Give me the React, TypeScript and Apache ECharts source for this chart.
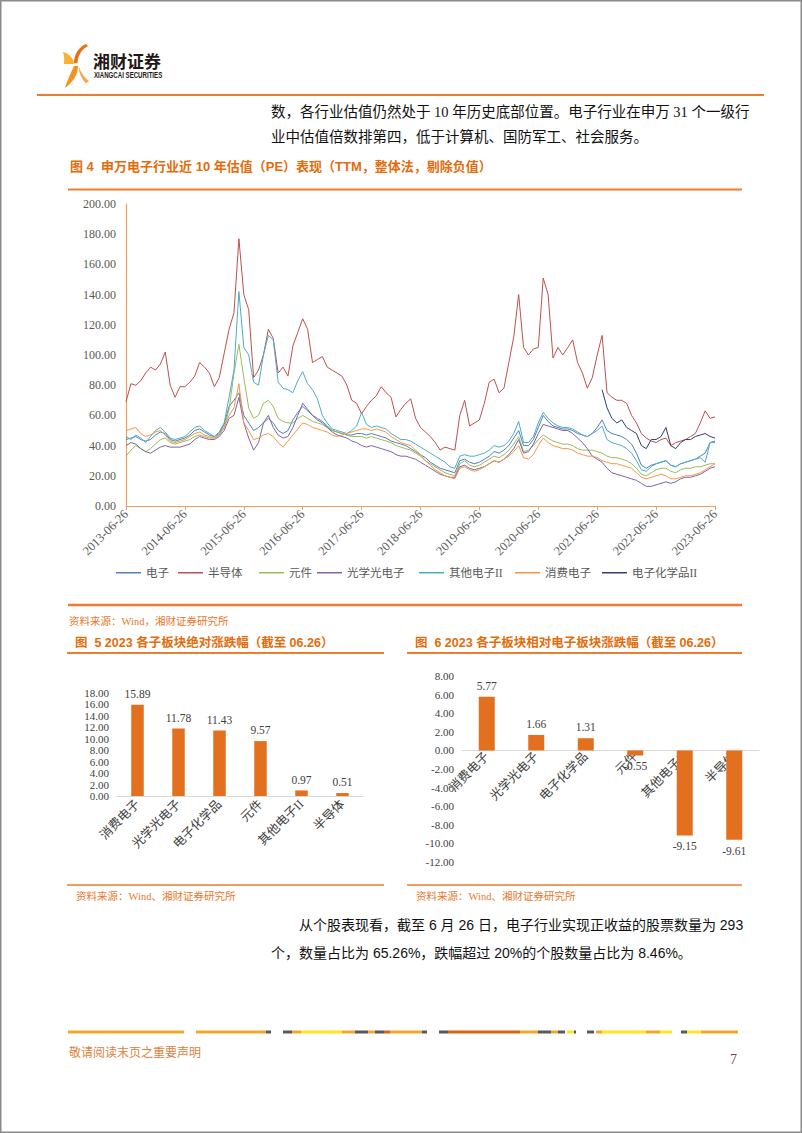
import React, { useEffect, useRef } from 'react';
import * as echarts from 'echarts';

// ---------- Figure 4 data (monthly, 2013-06 .. 2023-06) ----------
const seriesNames = ['电子', '半导体', '元件', '光学光电子', '其他电子II', '消费电子', '电子化学品II'];
const seriesColors = ['#4F81BD', '#C0504D', '#9BBB59', '#8064A2', '#4BACC6', '#F79646', '#2E3F6E'];

const dianzi = [
  44, 45, 46, 44, 43, 44, 47, 49, 48, 44, 43, 44,
  45, 47, 50, 51, 49, 47, 46, 48, 54, 66, 70, 75,
  60, 55, 50, 52, 55, 58, 55, 50, 48, 50, 57, 62,
  66, 63, 60, 58, 56, 53, 50, 49, 48, 47, 47, 48,
  48, 47, 48, 47, 46, 45, 43, 42, 41, 40, 38, 36,
  34, 32, 29, 27, 25, 24, 23, 22, 30, 31, 29, 28,
  29, 31, 33, 36, 35, 37, 40, 45, 50, 40, 40, 44,
  52, 60, 56, 53, 52, 51, 51, 50, 48, 47, 46, 48,
  52, 57, 50, 48, 47, 46, 44, 41, 35, 27, 25, 27,
  28, 29, 30, 27, 26, 28, 29, 30, 31, 33, 35, 42,
  43,
];
const bandaoti = [
  69, 81, 80, 83, 88, 92, 90, 94, 102, 80, 72, 79,
  79, 82, 86, 95, 92, 88, 79, 85, 101, 117, 128, 177,
  140, 130, 85, 90, 100, 117, 111, 88, 92, 86, 106, 115,
  124, 117, 95, 97, 99, 92, 90, 88, 86, 80, 70, 68,
  61, 66, 70, 73, 79, 75, 72, 59, 64, 68, 71, 58,
  52, 49, 46, 42, 37, 39, 38, 37, 60, 70, 53, 55,
  57, 68, 82, 84, 75, 78, 95, 112, 140, 105, 100, 104,
  105, 151, 140, 98, 105, 100, 105, 110, 95, 88, 78, 85,
  100, 113, 75, 72, 70, 70, 68, 60, 55, 48, 45, 43,
  42, 44, 45, 40, 42, 43, 44, 46, 48, 55, 63, 58,
  59,
];
const yuanjian = [
  33, 37, 40, 38, 36, 38, 41, 44, 45, 42, 41, 42,
  43, 44, 46, 47, 46, 45, 45, 47, 52, 64, 88, 107,
  85, 65, 58, 60, 68, 70, 66, 58, 56, 55, 55, 58,
  60, 58, 56, 55, 54, 52, 50, 49, 48, 47, 46, 46,
  46, 45, 46, 45, 44, 43, 42, 40, 39, 38, 37, 35,
  33, 30, 28, 26, 24, 22, 21, 20, 28, 30, 27, 26,
  27, 29, 31, 33, 32, 34, 37, 41, 46, 36, 37, 40,
  44, 47, 45, 43, 42, 41, 41, 40, 38, 37, 37, 37,
  36, 35, 33, 32, 32, 31, 30, 28, 25, 21, 20, 22,
  24, 25, 25, 23, 22, 24, 25, 25, 26, 26, 27, 28,
  28,
];
const guangxue = [
  40, 42, 41, 38, 36, 35, 37, 39, 40, 39, 39, 39,
  40, 41, 44, 46, 45, 44, 44, 46, 50, 58, 60, 72,
  55, 45, 37, 42, 55, 60, 52, 47, 45, 46, 52, 60,
  68, 64, 60, 57, 55, 52, 49, 47, 46, 45, 43, 42,
  40, 39, 40, 39, 38, 37, 36, 34, 33, 33, 32, 31,
  29, 27, 25, 23, 21, 20, 19, 19, 26, 27, 25, 24,
  25, 26, 28, 30, 29, 31, 34, 38, 44, 35, 36, 41,
  48, 54, 53, 52, 51, 50, 50, 48, 45, 42, 38, 33,
  31, 29, 25, 22, 21, 20, 19, 18, 17, 15, 13, 13,
  14, 15, 16, 15, 16, 18, 19, 19, 20, 21, 23, 25,
  26,
];
const qita = [
  46, 44, 47, 45, 42, 46, 50, 52, 49, 45, 44, 45,
  46, 49, 52, 53, 50, 48, 46, 49, 55, 72, 90, 142,
  105, 100, 82, 80, 100, 113, 110, 82, 78, 77, 75, 83,
  89, 81, 77, 71, 60, 55, 51, 50, 49, 48, 50, 53,
  62, 54, 52, 53, 52, 51, 48, 46, 44, 44, 43, 41,
  39, 37, 35, 33, 31, 29, 26, 25, 33, 34, 33, 33,
  34, 35, 37, 40, 39, 40, 43, 48, 56, 42, 42, 46,
  55, 62, 58, 55, 53, 52, 52, 51, 49, 47, 46, 48,
  50, 53, 44, 42, 41, 40, 38, 35, 30, 24, 23, 26,
  28, 29, 30, 27, 26, 28, 29, 30, 31, 32, 29, 42,
  42,
];
const xiaofei = [
  50, 51, 52, 48, 46, 47, 49, 50, 47, 43, 42, 43,
  44, 46, 48, 49, 47, 46, 45, 47, 52, 60, 65, 81,
  55, 50, 44, 45, 47, 48, 46, 42, 39, 43, 47, 51,
  55, 54, 52, 51, 50, 49, 47, 46, 47, 48, 49, 50,
  51, 51, 50, 51, 50, 49, 46, 44, 42, 41, 40, 37,
  34, 30, 27, 24, 22, 20, 19, 18, 25, 26, 24, 23,
  24, 26, 28, 30, 29, 31, 33, 36, 40, 32, 31, 34,
  40, 45, 42, 40, 39, 38, 38, 37, 35, 34, 33, 33,
  32, 30, 29, 28, 28, 27, 26, 25, 22, 19, 18, 19,
  20, 21, 20, 18, 18, 19, 20, 20, 21, 22, 24, 26,
  28,
];
// 电子化学品II starts in 2021-07 (month index 97)
const huaxueStart = 97;
const huaxue = [
  77, 65, 58, 55, 57, 52, 50, 48, 40, 38, 44,
  44, 46, 52, 40, 38, 42, 44, 44, 46, 47, 48, 46,
  45,
];

// ---------- Figure 5 / 6 data ----------
const barCats = ['消费电子', '光学光电子', '电子化学品', '元件', '其他电子II', '半导体'];
const absChange = [15.89, 11.78, 11.43, 9.57, 0.97, 0.51];
const relChange = [5.77, 1.66, 1.31, -0.55, -9.15, -9.61];

// ---------- layout constants ----------
const legendX = [116, 178, 259, 317, 419, 515, 602];
const G = '#F0A928', D = '#595959', Y = '#FFE51F', O = '#D9640F';
const footerSegs: [number, number, string][] = [
  [68, 184, G], [196, 266, G], [266, 271, D], [283, 292, D], [292, 301, G], [301, 342, Y],
  [342, 355, G], [355, 368, D], [368, 375, G], [375, 384, D], [384, 390, O], [390, 422, G],
  [422, 427, D], [439, 448, D], [448, 520, O], [520, 538, G], [538, 551, D], [551, 558, G],
  [558, 565, D], [567, 574, Y], [574, 576, D], [587, 594, D], [596, 602, G], [602, 646, Y],
  [646, 660, G], [660, 672, Y], [681, 687, D], [687, 701, Y], [701, 738, G],
];

const SERIF = '"Liberation Serif", "Noto Sans CJK SC", serif';
const SANS = '"Liberation Sans", "Noto Sans CJK SC", sans-serif';
const ORANGE = '#E46C0A';
const LINE_ORANGE = '#ED7D31';
const AXIS_ORANGE = '#F0A060';

// figure 6 grid geometry
const G6_TOP = 676, G6_H = 186, G6_MIN = -12, G6_MAX = 8;

echarts.graphic.registerShape('logoA', echarts.graphic.extendPath('M24,1 C17,4 12,11 12,20 L15.5,20 C16,12 20,6 26,3 Z', {}));
echarts.graphic.registerShape('logoB', echarts.graphic.extendPath('M1,9 C6,10 11,14 12.5,21 L2,21 C2.5,16 2,12 1,9 Z', {}));
echarts.graphic.registerShape('logoC', echarts.graphic.extendPath('M12,23 L16,23 C16,32 11,39 3,45 C5,37 9,30 12,23 Z', {}));
echarts.graphic.registerShape('logoD', echarts.graphic.extendPath('M16.5,23 C19,30 23,35 27,38 L24,40.5 C19.5,36 17,30 16.5,23 Z', {}));

function txt(text: string, x: number, y: number, size: number, fill: string, family: string, weight: string = 'normal', align: string = 'left', extra: any = {}) {
  return {
    type: 'text', x, y, ...extra,
    style: {
      text, fill, fontSize: size, fontFamily: family, fontWeight: weight,
      textAlign: align, textVerticalAlign: 'middle', align, verticalAlign: 'middle',
    },
  };
}
function hline(x1: number, x2: number, y: number, w: number, color: string) {
  return { type: 'line', shape: { x1, y1: y, x2, y2: y }, style: { stroke: color, lineWidth: w } };
}

function buildOption() {
  const dateLabels: string[] = [];
  for (let i = 0; i < dianzi.length; i++) {
    const mIdx = 5 + i;
    const yr = 2013 + Math.floor(mIdx / 12);
    const mo = (mIdx % 12) + 1;
    dateLabels.push(`${yr}-${String(mo).padStart(2, '0')}-26`);
  }
  const huaxueData = dateLabels.map((_, i) => (i < huaxueStart ? null : huaxue[i - huaxueStart]));
  const lineData = [dianzi, bandaoti, yuanjian, guangxue, qita, xiaofei, huaxueData];

  const lineSeries = seriesNames.map((name, i) => ({
    name, type: 'line', xAxisIndex: 0, yAxisIndex: 0, data: lineData[i],
    showSymbol: false, symbol: 'none', lineStyle: { width: 1, color: seriesColors[i] },
    itemStyle: { color: seriesColors[i] }, emphasis: { disabled: true },
  }));

  const barLabel = {
    show: true, fontSize: 11.5, fontFamily: SERIF, color: '#404040', distance: 5,
    formatter: (p: any) => Number(p.value).toFixed(2),
  };
  const catAxisLabel = { rotate: 45, interval: 0, fontSize: 12.5, color: '#404040', fontFamily: SERIF, margin: 6 };
  const valLabel = { fontSize: 11, color: '#404040', fontFamily: SERIF, margin: 8, formatter: (v: number) => v.toFixed(2) };

  // distance from bottom of fig 6 grid up to its zero line
  const zeroOffset = (G6_H * (0 - G6_MIN)) / (G6_MAX - G6_MIN);

  const graphics: any[] = [
    { type: 'rect', shape: { x: 0.75, y: 0.75, width: 800.5, height: 1131.5 }, style: { fill: 'none', stroke: '#8A8A8A', lineWidth: 1.5 } },
    // logo
    { type: 'logoA', x: 62, y: 43, scaleX: 1, scaleY: 1, style: { fill: '#E5701A' } },
    { type: 'logoB', x: 62, y: 43, scaleX: 1, scaleY: 1, style: { fill: '#F8B133' } },
    { type: 'logoC', x: 62, y: 43, scaleX: 1, scaleY: 1, style: { fill: '#F29422' } },
    { type: 'logoD', x: 62, y: 43, scaleX: 1, scaleY: 1, style: { fill: '#F6A94A' } },
    txt('湘财证券', 93, 60, 17, '#231815', '"Noto Sans CJK SC", sans-serif', 'bold'),
    txt('XIANGCAI SECURITIES', 94, 75, 8.5, '#231815', SANS, 'bold', 'left', { scaleX: 0.72 }),
    hline(37, 764, 95, 2, LINE_ORANGE),
    // top paragraph
    txt('数，各行业估值仍然处于 10 年历史底部位置。电子行业在申万 31 个一级行', 271, 112, 14.5, '#111', SERIF),
    txt('业中估值倍数排第四，低于计算机、国防军工、社会服务。', 271, 137, 14.5, '#111', SERIF),
    // figure 4
    txt('图 4  申万电子行业近 10 年估值（PE）表现（TTM，整体法，剔除负值）', 70, 166, 13, ORANGE, SANS, 'bold'),
    hline(68, 742, 189.5, 2, LINE_ORANGE),
    hline(68, 742, 605, 2.6, LINE_ORANGE),
    txt('资料来源：Wind，湘财证券研究所', 69, 621, 10.5, '#E8782C', SERIF),
    // figure 5
    txt('图  5 2023 各子板块绝对涨跌幅（截至 06.26）', 75, 643, 12.5, ORANGE, SANS, 'bold'),
    hline(67, 384, 653, 2, LINE_ORANGE),
    hline(67, 384, 885, 1.6, LINE_ORANGE),
    txt('资料来源：Wind、湘财证券研究所', 76, 896, 10.5, '#E8782C', SERIF),
    // figure 6
    txt('图  6 2023 各子板块相对电子板块涨跌幅（截至 06.26）', 415, 643, 12.5, ORANGE, SANS, 'bold'),
    hline(407, 742, 653, 2, LINE_ORANGE),
    hline(407, 742, 885, 1.6, LINE_ORANGE),
    txt('资料来源：Wind、湘财证券研究所', 416, 896, 10.5, '#E8782C', SERIF),
    // bottom paragraph
    txt('从个股表现看，截至 6 月 26 日，电子行业实现正收益的股票数量为 293', 299, 925, 14, '#111', SANS),
    txt('个，数量占比为 65.26%，跌幅超过 20%的个股数量占比为 8.46%。', 271, 953, 14, '#111', SANS),
    // footer
    ...footerSegs.map(([a, b, c]) => ({ type: 'rect', shape: { x: a, y: 1030.5, width: b - a, height: 3 }, style: { fill: c } })),
    txt('敬请阅读末页之重要声明', 69, 1053, 12, '#E0803C', SERIF),
    txt('7', 730, 1059, 14, '#8B3A62', SERIF),
  ];

  return {
    animation: false,
    backgroundColor: '#ffffff',
    textStyle: { fontFamily: SERIF },
    legend: seriesNames.map((n, i) => ({
      data: [n], left: legendX[i], top: 567, padding: 0, itemGap: 0,
      icon: 'rect', itemWidth: 25, itemHeight: 1.5,
      textStyle: { fontSize: 11.5, color: '#595959', fontFamily: SERIF, padding: [0, 0, 0, 0] },
      selectedMode: false,
    })),
    grid: [
      { left: 126, top: 204, width: 589, height: 302 },
      { left: 117, top: 692.7, width: 246, height: 103.3 },
      { left: 462, top: G6_TOP, width: 297, height: G6_H },
    ],
    xAxis: [
      {
        gridIndex: 0, type: 'category', data: dateLabels, boundaryGap: false,
        axisLine: { lineStyle: { color: AXIS_ORANGE, width: 1.2 } },
        axisTick: { interval: 11, length: 4, lineStyle: { color: AXIS_ORANGE } },
        axisLabel: { interval: 11, rotate: 45, fontSize: 12.5, color: '#595959', fontFamily: SERIF, margin: 6 },
      },
      {
        gridIndex: 1, type: 'category', data: barCats,
        axisLine: { lineStyle: { color: '#D9D9D9' } }, axisTick: { show: false }, axisLabel: catAxisLabel,
      },
      {
        gridIndex: 2, type: 'category', data: barCats, position: 'bottom', offset: -zeroOffset,
        axisLine: { onZero: false, lineStyle: { color: '#D9D9D9' } }, axisTick: { show: false },
        axisLabel: { ...catAxisLabel, margin: 4 },
        z: 1,
      },
    ],
    yAxis: [
      {
        gridIndex: 0, type: 'value', min: 0, max: 200, interval: 20,
        axisLine: { show: true, lineStyle: { color: AXIS_ORANGE, width: 1.2 } }, axisTick: { show: false },
        splitLine: { show: false },
        axisLabel: { fontSize: 12, color: '#595959', fontFamily: SERIF, margin: 10, formatter: (v: number) => v.toFixed(2) },
      },
      {
        gridIndex: 1, type: 'value', min: 0, max: 18, interval: 2,
        axisLine: { show: false }, axisTick: { show: false }, splitLine: { show: false }, axisLabel: valLabel,
      },
      {
        gridIndex: 2, type: 'value', min: G6_MIN, max: G6_MAX, interval: 2,
        axisLine: { show: false }, axisTick: { show: false }, splitLine: { show: false }, axisLabel: valLabel,
      },
    ],
    series: [
      ...lineSeries,
      {
        type: 'bar', xAxisIndex: 1, yAxisIndex: 1, data: absChange, barWidth: 12.5,
        itemStyle: { color: '#E2701F' }, label: { ...barLabel, position: 'top' },
      },
      {
        type: 'bar', xAxisIndex: 2, yAxisIndex: 2, barWidth: 16,
        data: relChange.map((v) => ({ value: v, label: { position: v < 0 ? 'bottom' : 'top' } })),
        itemStyle: { color: '#E2701F' }, label: barLabel,
      },
    ],
    graphic: graphics,
  };
}

export default function App() {
  const ref = useRef<HTMLDivElement>(null);
  useEffect(() => {
    if (!ref.current) return;
    const chart = echarts.init(ref.current, null, { renderer: 'svg' });
    chart.setOption(buildOption() as any);
    return () => chart.dispose();
  }, []);
  return (
    <div
      ref={ref}
      style={{ position: 'absolute', left: 0, top: 0, width: 802, height: 1133, background: '#fff' }}
    />
  );
}
